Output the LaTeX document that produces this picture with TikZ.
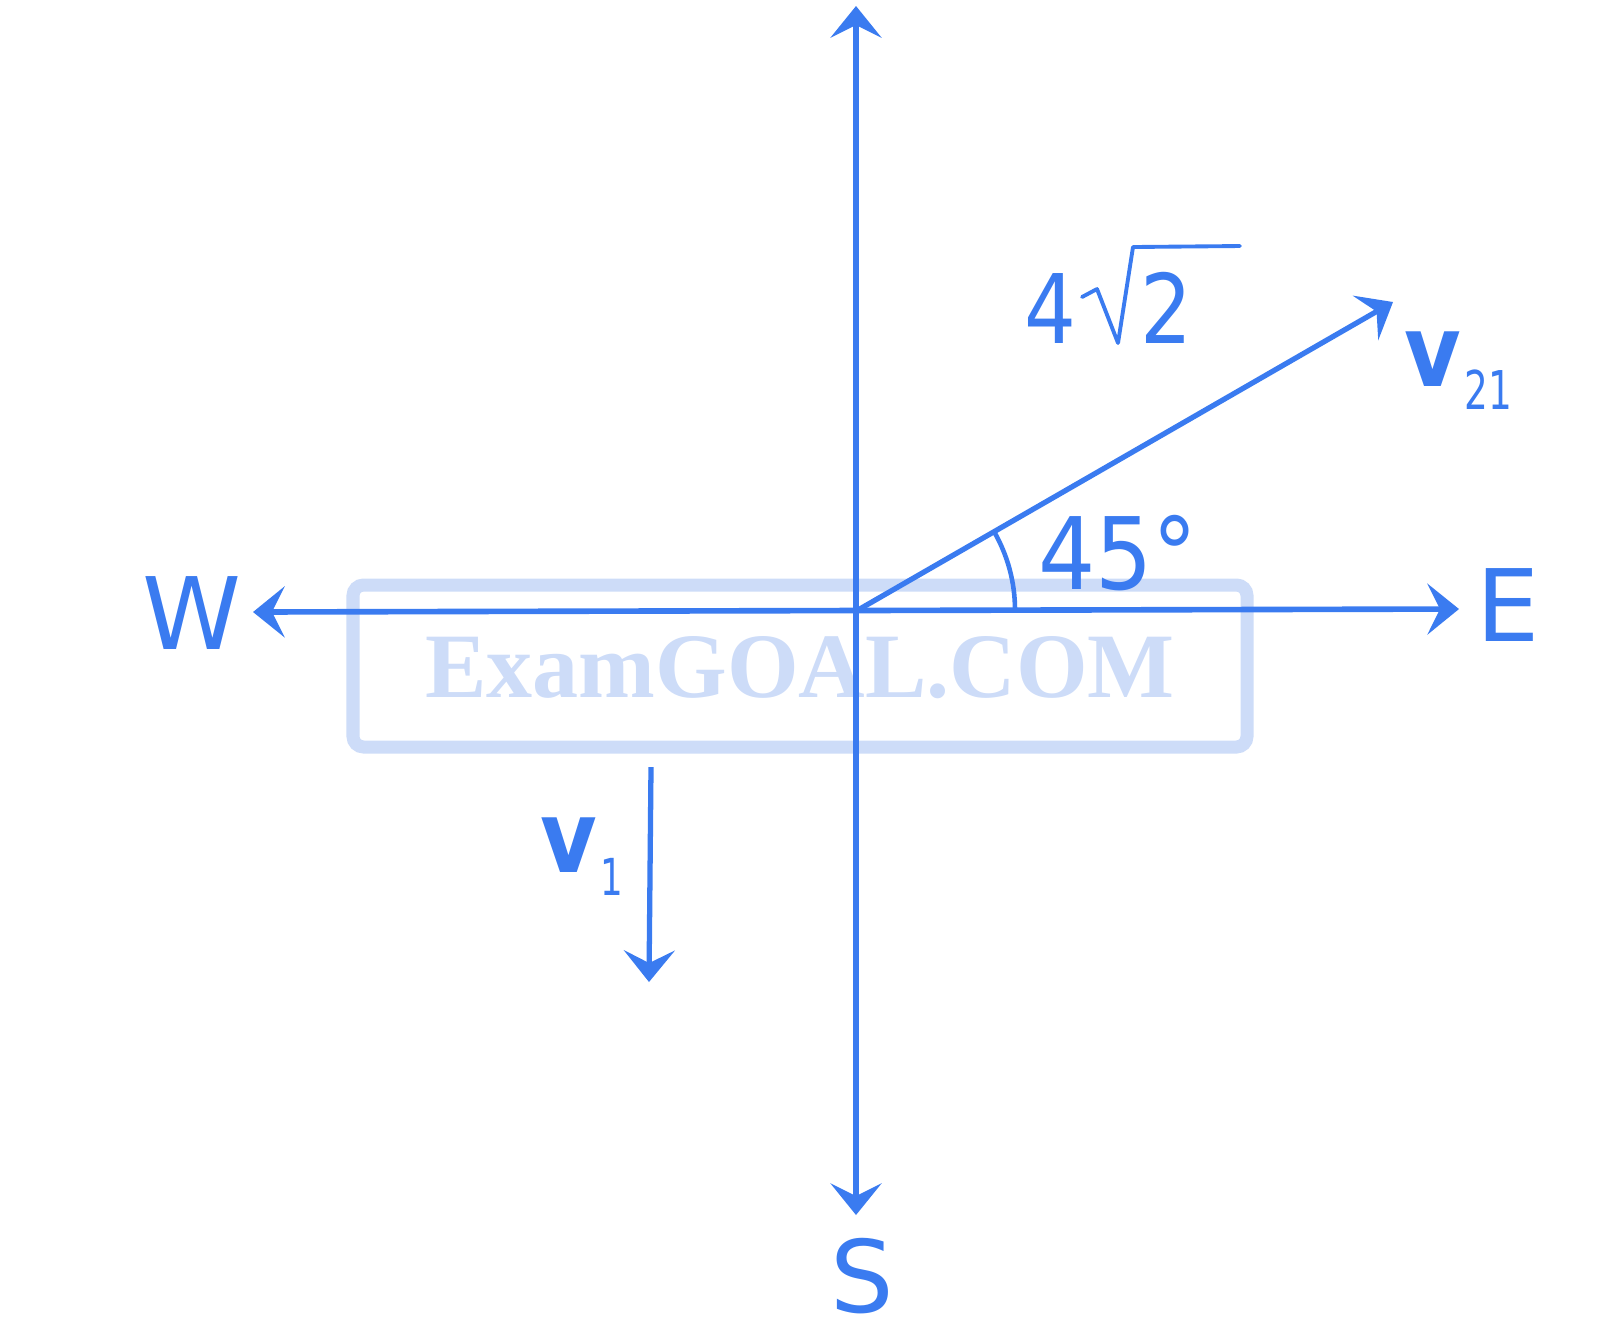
\documentclass[tikz,border=0pt]{standalone}
\usepackage{fontspec}
\setmainfont{DejaVu Sans}
\newfontfamily\wmfont{Liberation Serif}
\usetikzlibrary{arrows.meta}
\definecolor{axisblue}{HTML}{3A7BF0}
\definecolor{wmblue}{HTML}{CDDCF8}
\tikzset{
  tipA/.tip={Stealth[length=9pt,width=14.5pt,inset=3.6pt]},
  axisline/.style={draw=axisblue, line width=1.8pt, tipA-tipA},
  vecline/.style={draw=axisblue, line width=1.5pt, -tipA},
  arcline/.style={draw=axisblue, line width=1.3pt},
  radline/.style={draw=axisblue, line width=1.1pt, line join=round, line cap=round},
  lab/.style={text=axisblue, inner sep=0pt, font=\fontsize{28.45pt}{34pt}\selectfont},
  numlab/.style={text=axisblue, inner sep=0pt, font=\fontsize{27.3pt}{33pt}\selectfont},
  wmbox/.style={draw=wmblue, line width=3.7pt, rounded corners=3pt},
  wmtext/.style={text=wmblue, inner sep=0pt, font=\wmfont\bfseries\fontsize{26.2pt}{30pt}\selectfont},
}
\begin{document}
\begin{tikzpicture}[x=0.01cm,y=-0.01cm]
\useasboundingbox (0,0) rectangle (1600,1332);
% watermark
\draw[wmbox] (353,585) rectangle (1247,747);
\node[wmtext, anchor=base] (wm) at (800,697) {ExamGOAL.COM};
% coordinates
\coordinate (O) at (858,610);
\coordinate (Ntop) at (856,6);
\coordinate (Sbot) at (856,1215);
\coordinate (Wend) at (253,612);
\coordinate (Eend) at (1459,609);
\coordinate (V21) at (1393,302);
\coordinate (V1a) at (651,767);
\coordinate (V1b) at (649,982);
% axes
\draw[axisline] (Sbot) -- (Ntop);
\draw[axisline, line width=1.6pt] (Wend) -- (Eend);
% vectors
\draw[vecline] (O) -- (V21);
\draw[vecline] (V1a) -- (V1b);
% angle arc
\draw[arcline] (O) ++(157,0) arc[start angle=0, end angle=-30, radius=157];
% labels
\node[lab] (W) at (192,613) {W};
\node[lab] (E) at (1508,605) {E};
\node[lab] (S) at (862,1276) {S};
\node[lab] (ang) at (1118,553) {\scalebox{0.9}[1]{45°}};
\node[numlab, anchor=base west] (four) at (1024,343) {\scalebox{0.85}[1]{4}};
\node[numlab, anchor=base west] (two) at (1140,343) {\scalebox{0.85}[1]{2}};
\draw[radline] (1082,297) -- (1097,289) -- (1118,343) -- (1133,247) -- (1240,246);
\node[lab, anchor=base west] (v21lab) at (1404,386) {\scalebox{0.87}[1]{\bfseries v}\hspace{1pt}\raisebox{-6.8pt}{\fontsize{15.2pt}{18pt}\selectfont\scalebox{0.7}[1]{21}}};
\node[lab, anchor=base west] (v1lab) at (540,872) {\scalebox{0.87}[1]{\bfseries v}\hspace{1pt}\raisebox{-6.8pt}{\fontsize{14.5pt}{17pt}\selectfont\scalebox{0.7}[1]{1}}};
\end{tikzpicture}
\end{document}
